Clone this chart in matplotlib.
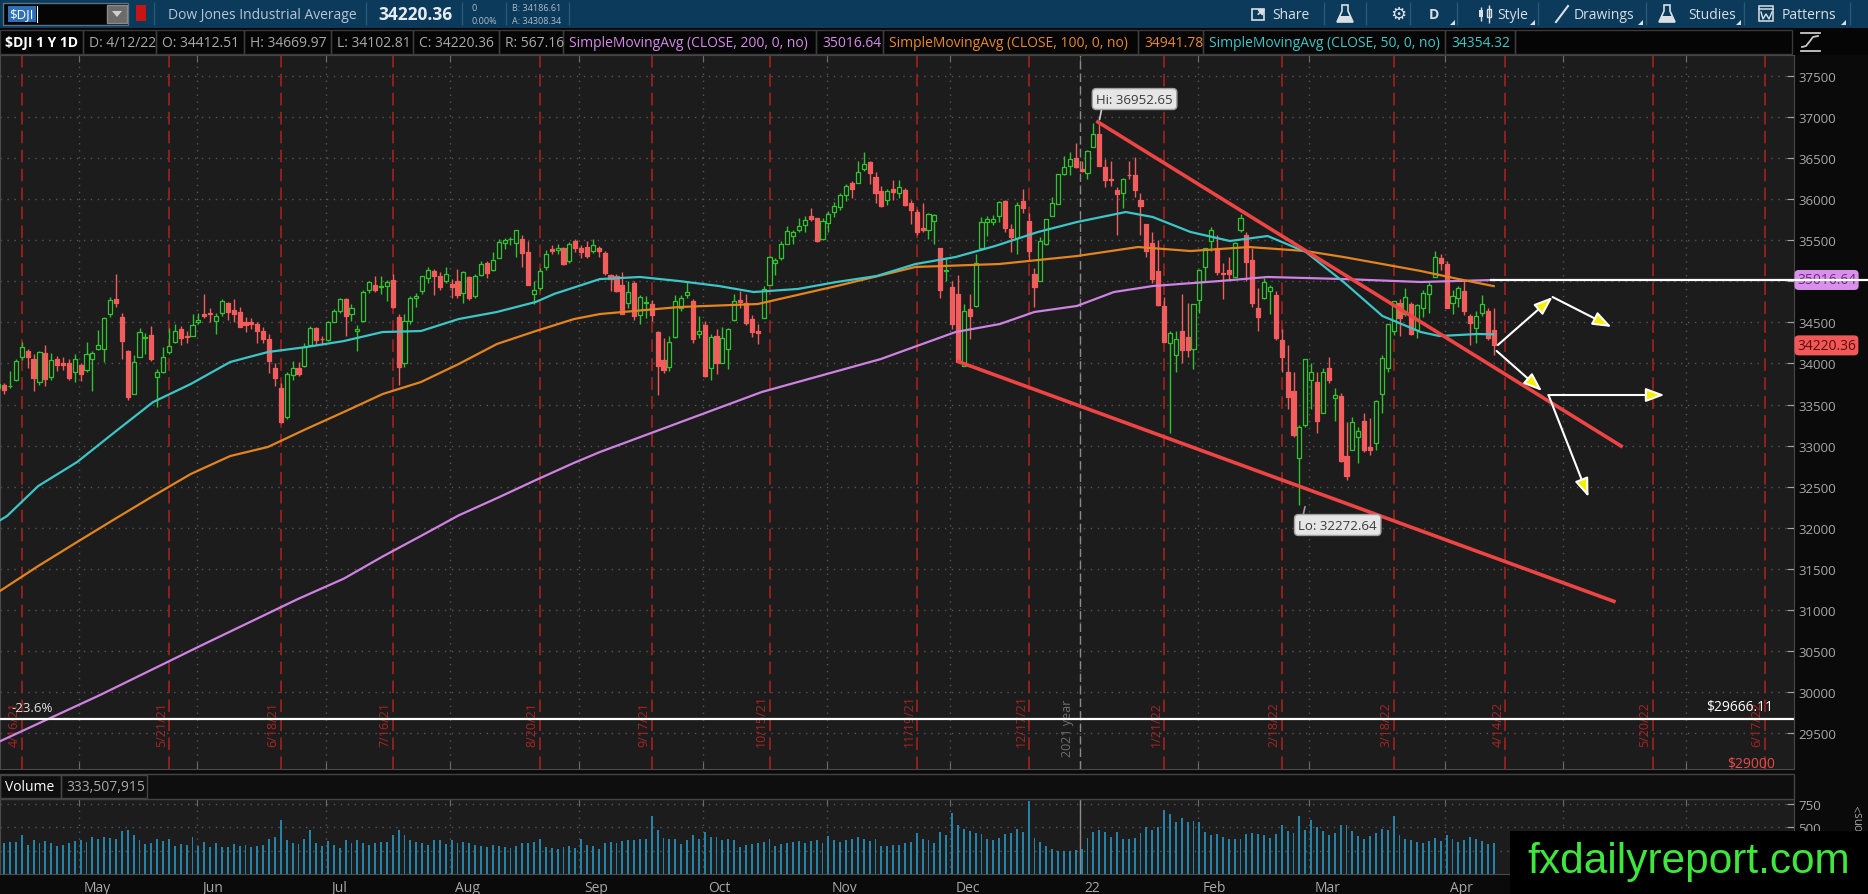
"""Dow Jones Industrial Average, 1 year daily chart (thinkorswim style)"""
import numpy as np
import pandas as pd
import matplotlib
matplotlib.use("Agg")
import matplotlib.pyplot as plt
import matplotlib.transforms as mtransforms
from matplotlib.collections import LineCollection, PatchCollection
from matplotlib.patches import Rectangle, FancyArrowPatch, Polygon

# daily candles: (open, high, low, close, volume in millions)
apr21 = [(33700, 33780, 33640, 33745, 320), (33740, 33760, 33630, 33677, 330), (33720, 33910, 33700, 33730, 340),
         (33800, 34060, 33790, 34035, 340), (34080, 34260, 34040, 34200, 420), (34150, 34180, 33950, 34078, 310),
         (34060, 34110, 33660, 33821, 360), (33780, 34150, 33740, 34137, 330), (34130, 34230, 33730, 33815, 350),
         (33840, 34130, 33800, 34043, 330), (34050, 34090, 33910, 33981, 300), (34010, 34080, 33920, 33984, 310),
         (34000, 34050, 33800, 33820, 330), (33900, 34120, 33780, 34060, 350), (33980, 34010, 33790, 33874, 360)]
may21 = [(33920, 34260, 33900, 34113, 340), (34050, 34150, 33660, 34133, 400), (34180, 34410, 34160, 34230, 380),
         (34180, 34560, 34020, 34548, 400), (34600, 34810, 34560, 34777, 390), (34780, 35090, 34690, 34742, 380),
         (34560, 34620, 34050, 34269, 460), (34150, 34170, 33560, 33587, 470), (33630, 34100, 33630, 34021, 420),
         (34080, 34430, 34080, 34382, 360), (34310, 34370, 34110, 34327, 320), (34350, 34460, 34030, 34060, 330),
         (33830, 33930, 33470, 33896, 380), (33900, 34200, 33880, 34084, 350), (34140, 34430, 34120, 34208, 380),
         (34260, 34480, 34250, 34394, 300), (34420, 34460, 34230, 34313, 320), (34330, 34400, 34250, 34323, 310),
         (34340, 34600, 34330, 34465, 400), (34500, 34620, 34480, 34529, 300)]
jun21 = [(34600, 34850, 34550, 34575, 340), (34610, 34680, 34500, 34600, 290), (34520, 34620, 34360, 34577, 330),
         (34620, 34790, 34580, 34756, 290), (34740, 34750, 34530, 34630, 290), (34650, 34780, 34510, 34600, 320),
         (34630, 34690, 34440, 34447, 300), (34500, 34560, 34380, 34466, 310), (34500, 34550, 34420, 34480, 290),
         (34480, 34500, 34250, 34394, 300), (34400, 34440, 34250, 34299, 310), (34300, 34360, 33880, 34033, 380),
         (33950, 34000, 33720, 33823, 400), (33700, 33760, 33270, 33290, 580), (33350, 33900, 33320, 33877, 360),
         (33860, 34030, 33800, 33946, 330), (33940, 34020, 33850, 33874, 320), (33970, 34250, 33960, 34197, 370),
         (34220, 34460, 34210, 34434, 470), (34430, 34440, 34240, 34284, 330), (34300, 34340, 34230, 34292, 300),
         (34290, 34520, 34270, 34503, 350)]
jul21 = [(34510, 34660, 34510, 34634, 310), (34640, 34800, 34620, 34786, 280), (34790, 34800, 34330, 34577, 360),
         (34600, 34720, 34520, 34681, 330), (34400, 34470, 34150, 34422, 360), (34520, 34890, 34500, 34870, 330),
         (34900, 35010, 34860, 34996, 310), (34960, 35060, 34870, 34889, 330), (34930, 35070, 34850, 34933, 340),
         (34940, 35020, 34760, 34987, 340), (35020, 35090, 34680, 34688, 420), (34570, 34600, 33740, 33962, 470),
         (34000, 34600, 33960, 34512, 420), (34520, 34820, 34480, 34798, 360), (34800, 34860, 34690, 34823, 340),
         (34880, 35070, 34840, 35062, 330), (35040, 35170, 34980, 35144, 310), (35130, 35150, 34830, 35059, 360),
         (35070, 35110, 34900, 34931, 360), (35010, 35170, 34980, 35085, 320), (34970, 35030, 34800, 34935, 360)]
aug21 = [(35000, 35150, 34800, 34838, 330), (34860, 35130, 34740, 35117, 340), (35050, 35070, 34770, 34793, 330),
         (34820, 35090, 34800, 35065, 310), (35080, 35250, 35060, 35209, 300), (35220, 35250, 35040, 35102, 290),
         (35140, 35360, 35130, 35265, 310), (35290, 35510, 35280, 35485, 300), (35470, 35530, 35390, 35500, 290),
         (35510, 35540, 35440, 35515, 280), (35470, 35630, 35300, 35625, 300), (35520, 35560, 35180, 35343, 330),
         (35360, 35490, 34960, 34961, 330), (34850, 35000, 34720, 34894, 340), (34920, 35160, 34900, 35120, 370),
         (35170, 35380, 35140, 35336, 290), (35390, 35440, 35330, 35367, 280), (35380, 35450, 35330, 35406, 270),
         (35400, 35420, 35200, 35214, 290), (35250, 35480, 35220, 35456, 300), (35490, 35510, 35360, 35400, 280),
         (35400, 35440, 35290, 35361, 370)]
sep21 = [(35420, 35490, 35290, 35313, 310), (35370, 35520, 35350, 35444, 300), (35400, 35430, 35300, 35369, 270),
         (35350, 35370, 35080, 35100, 330), (35080, 35090, 34880, 35031, 340), (35060, 35090, 34870, 34879, 330),
         (34950, 35110, 34600, 34608, 350), (34740, 35000, 34680, 34870, 360), (34980, 35010, 34530, 34578, 360),
         (34590, 34830, 34480, 34814, 370), (34740, 34820, 34550, 34751, 380), (34730, 34770, 34520, 34585, 620),
         (34380, 34400, 33610, 33970, 470), (34040, 34310, 33880, 33919, 390), (33960, 34340, 33910, 34258, 380),
         (34320, 34830, 34310, 34765, 380), (34680, 34830, 34640, 34798, 320), (34830, 35010, 34800, 34870, 360),
         (34760, 34780, 34250, 34300, 420), (34360, 34580, 34310, 34391, 380), (34470, 34520, 33840, 33844, 450)]
oct21 = [(33940, 34360, 33800, 34326, 400), (34330, 34420, 33870, 34002, 400), (34010, 34440, 34010, 34315, 360),
         (34180, 34430, 33930, 34417, 380), (34530, 34850, 34520, 34755, 360), (34770, 34880, 34680, 34746, 290),
         (34740, 34850, 34470, 34496, 310), (34540, 34590, 34320, 34378, 320), (34400, 34480, 34240, 34377, 330),
         (34550, 34940, 34550, 34912, 340), (34960, 35310, 34960, 35295, 370), (35220, 35290, 35080, 35259, 300),
         (35280, 35490, 35260, 35457, 320), (35460, 35670, 35450, 35609, 330), (35550, 35620, 35450, 35603, 340),
         (35630, 35770, 35600, 35677, 350), (35680, 35790, 35600, 35741, 330), (35790, 35890, 35740, 35757, 350),
         (35770, 35770, 35480, 35490, 360), (35520, 35770, 35500, 35731, 330), (35710, 35860, 35600, 35820, 410)]
nov21 = [(35850, 35970, 35780, 35913, 360), (35900, 36070, 35870, 36053, 340), (36050, 36190, 35980, 36158, 360),
         (36200, 36220, 36020, 36124, 380), (36200, 36470, 36200, 36328, 400), (36370, 36570, 36340, 36432, 370),
         (36450, 36460, 36180, 36320, 350), (36270, 36330, 35950, 36080, 380), (36100, 36160, 35910, 35921, 300),
         (35990, 36120, 35930, 36100, 300), (36120, 36230, 35990, 36087, 310), (36080, 36230, 36020, 36143, 310),
         (36110, 36140, 35920, 35931, 330), (35950, 35990, 35700, 35871, 340), (35840, 35880, 35560, 35602, 440),
         (35650, 35950, 35600, 35620, 380), (35620, 35830, 35520, 35814, 360), (35730, 35820, 35450, 35805, 330),
         (35400, 35400, 34800, 34899, 450), (35130, 35300, 35000, 35136, 420), (34930, 35000, 34420, 34484, 650)]
dec21 = [(34840, 35080, 34000, 34022, 520), (33970, 34720, 33970, 34640, 480), (34660, 34840, 34300, 34580, 460),
         (34700, 35330, 34690, 35227, 440), (35400, 35780, 35400, 35719, 430), (35720, 35800, 35550, 35755, 370),
         (35720, 35810, 35690, 35754, 360), (35790, 35980, 35720, 35971, 390), (35980, 35990, 35600, 35651, 430),
         (35640, 35700, 35360, 35545, 440), (35530, 35970, 35330, 35927, 480), (35980, 36130, 35830, 35898, 450),
         (35730, 35830, 35250, 35365, 780), (35090, 35160, 34690, 34932, 390), (35000, 35540, 35000, 35493, 340),
         (35460, 35760, 35440, 35754, 300), (35800, 36030, 35790, 35951, 270), (35940, 36310, 35940, 36302, 250),
         (36310, 36530, 36300, 36398, 250), (36400, 36570, 36300, 36488, 250), (36500, 36680, 36380, 36398, 260),
         (36370, 36470, 36330, 36338, 270)]
jan22 = [(36320, 36600, 36250, 36585, 390), (36630, 36930, 36630, 36799, 450), (36800, 36952, 36400, 36408, 470),
         (36390, 36490, 36150, 36236, 450), (36250, 36460, 36160, 36231, 400), (36110, 36150, 35560, 36068, 450),
         (36070, 36260, 35890, 36252, 380), (36300, 36470, 36250, 36290, 380), (36300, 36510, 36030, 36114, 390),
         (35990, 36080, 35560, 35912, 440), (35700, 35700, 35300, 35369, 500), (35470, 35600, 34980, 35029, 470),
         (35130, 35500, 34700, 34715, 500), (34700, 34810, 34260, 34265, 690), (34250, 34400, 33150, 34365, 640),
         (34100, 34400, 33900, 34298, 560), (34390, 34850, 34000, 34168, 600), (34320, 34740, 34080, 34161, 560),
         (34180, 34730, 33930, 34725, 570), (34770, 35150, 34620, 35132, 560)]
feb22 = [(35180, 35410, 34990, 35405, 450), (35490, 35660, 35370, 35629, 420), (35400, 35560, 35080, 35111, 430),
         (35100, 35220, 34780, 35089, 400), (35140, 35300, 35020, 35091, 370), (35050, 35480, 35050, 35463, 380),
         (35620, 35820, 35600, 35768, 380), (35570, 35600, 35000, 35241, 430), (35260, 35400, 34690, 34738, 440),
         (34670, 34920, 34400, 34566, 430), (34800, 35040, 34780, 34989, 420), (34880, 34960, 34600, 34935, 390),
         (34830, 34880, 34290, 34312, 430), (34290, 34420, 33900, 34079, 520), (33900, 34230, 33440, 33597, 460),
         (33660, 33900, 33100, 33132, 440), (32850, 33250, 32273, 33224, 620), (33250, 34060, 33230, 34059, 470),
         (33800, 34000, 33450, 33893, 580)]
mar22 = [(33770, 33900, 33150, 33295, 500), (33400, 33950, 33400, 33891, 460), (33940, 34080, 33760, 33795, 420),
         (33580, 33700, 33300, 33615, 440), (33600, 33640, 32800, 32818, 520), (32870, 33290, 32580, 32633, 520),
         (32950, 33350, 32950, 33286, 460), (33110, 33230, 32790, 33174, 410), (33300, 33400, 32920, 32944, 380),
         (32980, 33330, 32880, 32945, 410), (33030, 33560, 32950, 33545, 440), (33630, 34100, 33400, 34063, 480),
         (33940, 34480, 33900, 34481, 470), (34400, 34760, 34350, 34755, 620), (34740, 34790, 34340, 34553, 420),
         (34600, 34920, 34580, 34808, 380), (34720, 34750, 34350, 34359, 360), (34410, 34720, 34310, 34708, 340),
         (34670, 34900, 34560, 34862, 330), (34840, 34990, 34610, 34956, 350), (35050, 35370, 35050, 35294, 390),
         (35290, 35330, 35140, 35229, 350), (35210, 35250, 34670, 34678, 420)]
apr22 = [(34740, 34900, 34600, 34818, 380), (34800, 34940, 34690, 34922, 340), (34880, 35010, 34590, 34641, 360),
         (34580, 34600, 34230, 34497, 400), (34430, 34640, 34250, 34584, 370), (34610, 34830, 34580, 34721, 350),
         (34640, 34670, 34290, 34309, 320), (34412.51, 34669.97, 34102.81, 34220.36, 333.5)]

# moving averages: bar index -> value
sma50_idx = [0.3, 1.5, 6.8, 13.4, 19.8, 26.3, 32.7, 39.4, 45.8, 52.3, 58.7, 65.3, 71.8, 78.2, 84.7, 91.3, 94.4,
             102.2, 109, 115.6, 122.4, 128.3, 135.8, 142.4, 149.2, 155.8, 162.6, 169.3, 176.6, 183.2, 191.5,
             196.1, 202.5, 209.2, 215.6, 222.1, 228.5, 235.1, 241.6, 244.8, 251.3, 254]
sma50 = [32090, 32143, 32508, 32800, 33165, 33530, 33750, 34018, 34139, 34200, 34273, 34383, 34395, 34541, 34627,
         34749, 34846, 35028, 35053, 35004, 34943, 34870, 34907, 34992, 35065, 35211, 35296, 35430, 35601, 35722,
         35844, 35783, 35601, 35491, 35552, 35357, 34992, 34578, 34383, 34334, 34359, 34354.32]
sma100_idx = [0.3, 6.8, 13.4, 19.8, 26.3, 32.7, 39.4, 45.8, 52.3, 58.7, 65.3, 71.8, 78.2, 84.7, 91.3, 97.8, 102.2,
              115.6, 129, 142.4, 155.8, 170, 183.2, 193.6, 202.5, 212.4, 222.1, 228.5, 235.1, 241.6, 248, 254]
sma100 = [31230, 31534, 31826, 32106, 32386, 32654, 32873, 32983, 33202, 33409, 33628, 33774, 33993, 34237, 34395,
          34541, 34602, 34687, 34724, 34943, 35175, 35211, 35308, 35418, 35369, 35418, 35369, 35296, 35211, 35126,
          35028, 34941.78]
sma200_idx = [0.3, 17.3, 34.3, 50.9, 58.7, 65.3, 71.8, 78.2, 84.7, 91.3, 97.8, 102.2, 129.7, 149.9, 162.6, 170.1,
              176, 183.2, 189.5, 196.1, 207.5, 215.6, 228.5, 241.6, 254]
sma200 = [29400, 29963, 30560, 31132, 31380, 31650, 31900, 32150, 32360, 32580, 32790, 32922, 33653, 34054, 34383,
          34480, 34627, 34700, 34870, 34943, 35004, 35053, 35028, 34992, 35016.64]

holidays = ["2021-05-31", "2021-07-05", "2021-09-06", "2021-11-25", "2021-12-24", "2022-01-17",
            "2022-02-21", "2022-04-15", "2022-05-30", "2022-06-20"]
expirations = ["2021-04-16", "2021-05-21", "2021-06-18", "2021-07-16", "2021-08-20", "2021-09-17",
               "2021-10-15", "2021-11-19", "2021-12-17", "2022-01-21", "2022-02-18", "2022-03-18",
               "2022-04-14", "2022-05-20", "2022-06-17"]
month_names = ["May", "Jun", "Jul", "Aug", "Sep", "Oct", "Nov", "Dec", "22", "Feb", "Mar", "Apr", "May", "Jun"]

# drawings on the chart (bar index, price)
hi_point = (187, 36952.65)
lo_point = (222, 32272.64)
upper_trend = [(186.5, 36952.65), (275.9, 32983)]
lower_trend = [(162.8, 34030), (274.7, 31096)]
arrows = [((254.7, 34225), (264.0, 34809)),
          ((264.0, 34809), (274.0, 34444)),
          ((254.5, 34152), (262.2, 33665)),
          ((263.3, 33616), (283.0, 33616)),
          ((263.3, 33616), (270.1, 32374))]
fib_level = 29666.11
sma200_last = 35016.64
last_close = 34220.36

FIG_BG = "#0a0a0a"
PANEL_BG = "#1c1c1c"
GREEN = "#2fc42f"
RED = "#f25c5c"
GRID = "#555555"
plt.rcParams["font.family"] = ["Open Sans", "DejaVu Sans"]

bars = apr21 + may21 + jun21 + jul21 + aug21 + sep21 + oct21 + nov21 + dec21 + jan22 + feb22 + mar22 + apr22
o, h, l, c, vol = (np.array(col, dtype=float) for col in zip(*bars))
idx = np.arange(len(bars))

days = pd.bdate_range("2021-04-12", "2022-06-30")
days = days[~days.isin(pd.to_datetime(holidays))]
month_first = [k for k in range(1, len(days)) if days[k].month != days[k - 1].month]
month_pos = [k - 1.3 for k in month_first][:len(month_names)]
year_pos = [k - 1.3 for k in month_first if days[k].month == 1][0]
exp_pos = [days.get_loc(pd.Timestamp(d)) for d in expirations]
exp_labels = [f"{pd.Timestamp(d).month}/{pd.Timestamp(d).day}/{pd.Timestamp(d).strftime('%y')}" for d in expirations]

fig = plt.figure(figsize=(18.68, 8.95), dpi=100, facecolor=FIG_BG)
ax = fig.add_axes([0, 125 / 895, 1794 / 1868, 714 / 895], facecolor=PANEL_BG)
vax = fig.add_axes([0, 20 / 895, 1794 / 1868, 75 / 895], facecolor=PANEL_BG)
ov = fig.add_axes([0, 0, 1, 1], zorder=10)
ov.set_xlim(0, 1868)
ov.set_ylim(895, 0)
ov.axis("off")

# ---- price panel ----
ax.set_xlim(0.3, 305.0)
ax.set_ylim(29062, 37756)
ax.set_axisbelow(True)
ax.set_yticks(np.arange(29500, 37501, 500))
ax.yaxis.tick_right()
ax.tick_params(axis="y", direction="in", length=5, colors="#a8a8a8", labelsize=9.5, pad=3)
ax.set_xticks(month_pos)
ax.tick_params(axis="x", direction="in", length=5, color="#6a6a6a", top=True, labelbottom=False)
ax.grid(True, color=GRID, lw=1, ls=(0, (1, 4)))
for sp in ax.spines.values():
    sp.set_color("#4a4a4a")

for x, lab in zip(exp_pos, exp_labels):
    ax.axvline(x, color="#9b2020", lw=1.3, ls=(0, (7, 3.5)), zorder=1)
    ax.text(x - 0.2, 29342, lab, rotation=90, ha="right", va="bottom", color="#a82424", fontsize=9, zorder=1)
ax.axvline(year_pos, color="#8a8a8a", lw=1, ls=(0, (6, 3)), zorder=1)
ax.text(year_pos - 1.0, 29225, "2021 year", rotation=90, ha="right", va="bottom", color="#6e6e6e",
        fontsize=9, zorder=1)

up = c >= o
wicks = LineCollection([[(i, l[i]), (i, h[i])] for i in idx],
                       colors=[GREEN if u else RED for u in up], linewidths=1, zorder=3)
ax.add_collection(wicks)
bodies = [Rectangle((i - 0.35, min(o[i], c[i])), 0.7, max(abs(c[i] - o[i]), 8),
                    facecolor=PANEL_BG if up[i] else RED, edgecolor=GREEN if up[i] else RED, lw=0.9)
          for i in idx]
ax.add_collection(PatchCollection(bodies, match_original=True, zorder=3))

ax.plot(sma200_idx, sma200, color="#cf82e2", lw=1.6, zorder=4)
ax.plot(sma100_idx, sma100, color="#e3841f", lw=1.6, zorder=4)
ax.plot(sma50_idx, sma50, color="#3cc6c8", lw=1.6, zorder=4)

ax.plot(*zip(*upper_trend), color="#ee4444", lw=2.6, zorder=5, solid_capstyle="butt")
ax.plot(*zip(*lower_trend), color="#ee4444", lw=2.6, zorder=5, solid_capstyle="butt")

ax.axhline(fib_level, color="white", lw=1.6, zorder=5)
ax.text(2.2, 29805, "-23.6%", ha="left", va="center", color="#e0e0e0", fontsize=9.5, zorder=6)
ax.text(301.4, 29817, f"${fib_level:.2f}", ha="right", va="center", color="white", fontsize=10, zorder=6)
ax.text(301.7, 29135, "$29000", ha="right", va="center", color="#e84a4a", fontsize=10, zorder=6)

for (x0, y0), (x1, y1) in arrows:
    ax.add_patch(FancyArrowPatch((x0, y0), (x1, y1), arrowstyle="-|>,head_length=0.75,head_width=0.28",
                                 mutation_scale=15, fc="#f4f000", ec="white", lw=1.5,
                                 shrinkA=0, shrinkB=0, zorder=7))

ax.annotate(f"Hi: {hi_point[1]:.2f}", xy=hi_point, xytext=(193.0, 37220), ha="center", va="center",
            fontsize=9.5, color="#3a3a3a", zorder=8,
            bbox=dict(boxstyle="round,pad=0.3", fc="#e6e6e6", ec="#a0a0a0", lw=1),
            arrowprops=dict(arrowstyle="-", color="#cfcfcf", lw=1.2, relpos=(0.08, 0.0), shrinkA=0, shrinkB=1))
ax.annotate(f"Lo: {lo_point[1]:.2f}", xy=lo_point, xytext=(227.5, 32033), ha="center", va="center",
            fontsize=9.5, color="#3a3a3a", zorder=8,
            bbox=dict(boxstyle="round,pad=0.3", fc="#e6e6e6", ec="#a0a0a0", lw=1),
            arrowprops=dict(arrowstyle="-", color="#9a9a9a", lw=1.2, relpos=(0.05, 1.0), shrinkA=0, shrinkB=1))

side = mtransforms.blended_transform_factory(ax.transAxes, ax.transData)
ax.text(1.0 + 3 / 1794, sma200_last, f"{sma200_last:.2f}", transform=side, ha="left", va="center",
        fontsize=10, color="#6a2a7a", zorder=6, clip_on=False,
        bbox=dict(boxstyle="round,pad=0.18,rounding_size=0.3", fc="#d890ea", ec="none"))
ax.text(1.0 + 3 / 1794, last_close, f"{last_close:.2f}", transform=side, ha="left", va="center",
        fontsize=10, color="#5a0c0c", zorder=6, clip_on=False,
        bbox=dict(boxstyle="round,pad=0.18,rounding_size=0.3", fc="#f25858", ec="none"))
ax.plot([253.6, 318], [sma200_last, sma200_last], color="white", lw=1.6, clip_on=False, zorder=7)

# ---- volume panel ----
vax.set_xlim(0.3, 305.0)
vax.set_ylim(0, 804)
vax.set_axisbelow(True)
vax.bar(idx, vol, width=0.32, color="#2483a8", zorder=2)
vax.axvline(year_pos, color="#8a8a8a", lw=1, zorder=1)
vax.set_yticks([250, 500, 750])
vax.yaxis.tick_right()
vax.tick_params(axis="y", direction="in", length=5, colors="#a8a8a8", labelsize=9.5, pad=3)
vax.set_xticks(month_pos, month_names)
vax.tick_params(axis="x", direction="in", length=5, color="#6a6a6a", top=True, bottom=False,
                labelcolor="#a8a8a8", labelsize=10, pad=4)
shift = mtransforms.ScaledTranslation(5 / 100, 0, fig.dpi_scale_trans)
for t in vax.get_xticklabels():
    t.set_ha("left")
    t.set_transform(t.get_transform() + shift)
vax.grid(True, color=GRID, lw=1, ls=(0, (1, 4)))
for sp in vax.spines.values():
    sp.set_color("#4a4a4a")

# ---- toolbar ----
TXT = "#d9dfe5"
ov.add_patch(Rectangle((0, 0), 1868, 29, fc="#0b3a5b", ec="none"))
ov.add_patch(Rectangle((3, 4), 125, 22, fc="#050505", ec="#5c6f80", lw=1))
ov.add_patch(Rectangle((8, 7), 28, 16, fc="#2f6fb8", ec="none"))
ov.text(9, 15, "$DJI", va="center", ha="left", color="white", fontsize=9.5)
ov.plot([37, 37], [7, 23], color="white", lw=0.8)
ov.add_patch(Rectangle((107, 6), 20, 18, fc="#6b6b6b", ec="#8a8a8a", lw=1))
ov.add_patch(Polygon([(112, 12), (122, 12), (117, 18)], fc="#cfcfcf", ec="none"))
ov.add_patch(Rectangle((136, 6), 10, 16, fc="#c81414", ec="none"))
ov.vlines([154, 366, 462, 506, 569, 1324, 1366, 1410, 1457, 1538, 1646, 1744, 1850], 3, 26,
          color="#2c5878", lw=1)
ov.text(168, 15, "Dow Jones Industrial Average", va="center", ha="left", color="#b9c6d2", fontsize=10)
ov.text(378, 15, "34220.36", va="center", ha="left", color="#e6ebf0", fontsize=12.5, fontweight="bold")
ov.text(471, 8, "0", va="center", ha="left", color="#b0bcc8", fontsize=6.5)
ov.text(471, 21, "0.00%", va="center", ha="left", color="#b0bcc8", fontsize=6.5)
ov.text(512, 8, "B: 34186.61", va="center", ha="left", color="#b0bcc8", fontsize=6.5)
ov.text(512, 21, "A: 34308.34", va="center", ha="left", color="#b0bcc8", fontsize=6.5)

ov.add_patch(Rectangle((1252, 10), 12, 11, fc="none", ec=TXT, lw=1.2))
ov.add_patch(FancyArrowPatch((1256, 17), (1267, 8), arrowstyle="-|>,head_length=3,head_width=2",
                             color=TXT, lw=1.2))
ov.text(1272, 15, "Share", va="center", ha="left", color=TXT, fontsize=10)
for fx in (1345, 1667):
    ov.add_patch(Polygon([(fx - 3, 6), (fx + 3, 6), (fx + 3, 12), (fx + 8, 23), (fx - 8, 23), (fx - 3, 12)],
                         fc="none", ec=TXT, lw=1.2))
    ov.add_patch(Polygon([(fx + 5, 17), (fx + 8, 23), (fx - 8, 23), (fx - 5, 17)], fc=TXT, ec="none"))
ov.text(1398, 15, "\u2699", va="center", ha="center", color=TXT, fontsize=13, family=["DejaVu Sans"])
ov.text(1434, 15, "D", va="center", ha="center", color=TXT, fontsize=10, fontweight="bold")
ov.vlines([1481, 1489], [8, 6], [22, 24], color=TXT, lw=1)
ov.add_patch(Rectangle((1479, 11), 4, 7, fc=TXT, ec="none"))
ov.add_patch(Rectangle((1487, 10), 4, 8, fc="none", ec=TXT, lw=1))
ov.text(1497, 15, "Style", va="center", ha="left", color=TXT, fontsize=10)
ov.plot([1556, 1568], [23, 7], color=TXT, lw=1.5)
ov.text(1574, 15, "Drawings", va="center", ha="left", color=TXT, fontsize=10)
ov.text(1688, 15, "Studies", va="center", ha="left", color=TXT, fontsize=10)
ov.add_patch(Rectangle((1759, 7), 14, 15, fc="none", ec=TXT, lw=1.1))
ov.plot([1759, 1773], [10, 10], color=TXT, lw=1.1)
ov.plot([1761, 1763, 1766, 1769, 1772], [13, 20, 15, 20, 13], color=TXT, lw=1)
ov.text(1782, 15, "Patterns", va="center", ha="left", color=TXT, fontsize=10)
for tx in (1455, 1535, 1643, 1741, 1846):
    ov.add_patch(Polygon([(tx, 21), (tx, 26), (tx - 5, 26)], fc=TXT, ec="none"))

# ---- study header row ----
ov.add_patch(Rectangle((0, 29), 1868, 27, fc="#050505", ec="none"))
GRAY = "#a9a9a9"
header = [("$DJI 1 Y 1D", "white"), ("D: 4/12/22", GRAY), ("O: 34412.51", GRAY), ("H: 34669.97", GRAY),
          ("L: 34102.81", GRAY), ("C: 34220.36", GRAY), ("R: 567.16", GRAY),
          ("SimpleMovingAvg (CLOSE, 200, 0, no)", "#d68be8"), ("35016.64", "#d68be8"),
          ("SimpleMovingAvg (CLOSE, 100, 0, no)", "#e98a25"), ("34941.78", "#e98a25"),
          ("SimpleMovingAvg (CLOSE, 50, 0, no)", "#3cc8c8"), ("34354.32", "#3cc8c8"), ("", GRAY)]
edges = [0, 83, 156, 244, 331, 413, 499, 563, 816, 883, 1138, 1203, 1445, 1515, 1792]
for k, (s, col) in enumerate(header):
    ov.add_patch(Rectangle((edges[k], 31), edges[k + 1] - edges[k], 24, fc="none", ec="#3a3a3a", lw=1))
    ov.text(edges[k] + (5 if k == 0 else 6), 43, s, va="center", ha="left", color=col, fontsize=10,
            fontweight="bold" if k == 0 else "normal")
ov.plot([1801, 1820], [34, 34], color="#c8c8c8", lw=1.3)
ov.plot([1801, 1820], [52, 52], color="#c8c8c8", lw=1.3)
ov.plot([1802, 1806, 1810, 1813, 1818], [48, 47, 42, 38, 37], color="#c8c8c8", lw=1.3)

# ---- volume header row ----
ov.add_patch(Rectangle((0, 775), 1794, 25, fc="#0e0e0e", ec="#444444", lw=1))
ov.add_patch(Rectangle((0, 776), 61, 23, fc="none", ec="#444444", lw=1))
ov.add_patch(Rectangle((61, 776), 86, 23, fc="none", ec="#444444", lw=1))
ov.text(5, 788, "Volume", va="center", ha="left", color="white", fontsize=10)
ov.text(66, 788, "333,507,915", va="center", ha="left", color=GRAY, fontsize=10)
ov.text(1859, 818, "ons>", rotation=90, va="center", ha="center", color="#9a9a9a", fontsize=8.5)

# ---- watermark ----
ov.add_patch(Rectangle((1510, 832), 358, 63, fc="black", ec="none", zorder=20))
ov.text(1527, 873, "fxdailyreport.com", va="baseline", ha="left", color="#3ee63e", fontsize=30.5,
        family=["Liberation Sans", "DejaVu Sans"], zorder=21)

fig.savefig("out.png", dpi=100, facecolor=FIG_BG)
